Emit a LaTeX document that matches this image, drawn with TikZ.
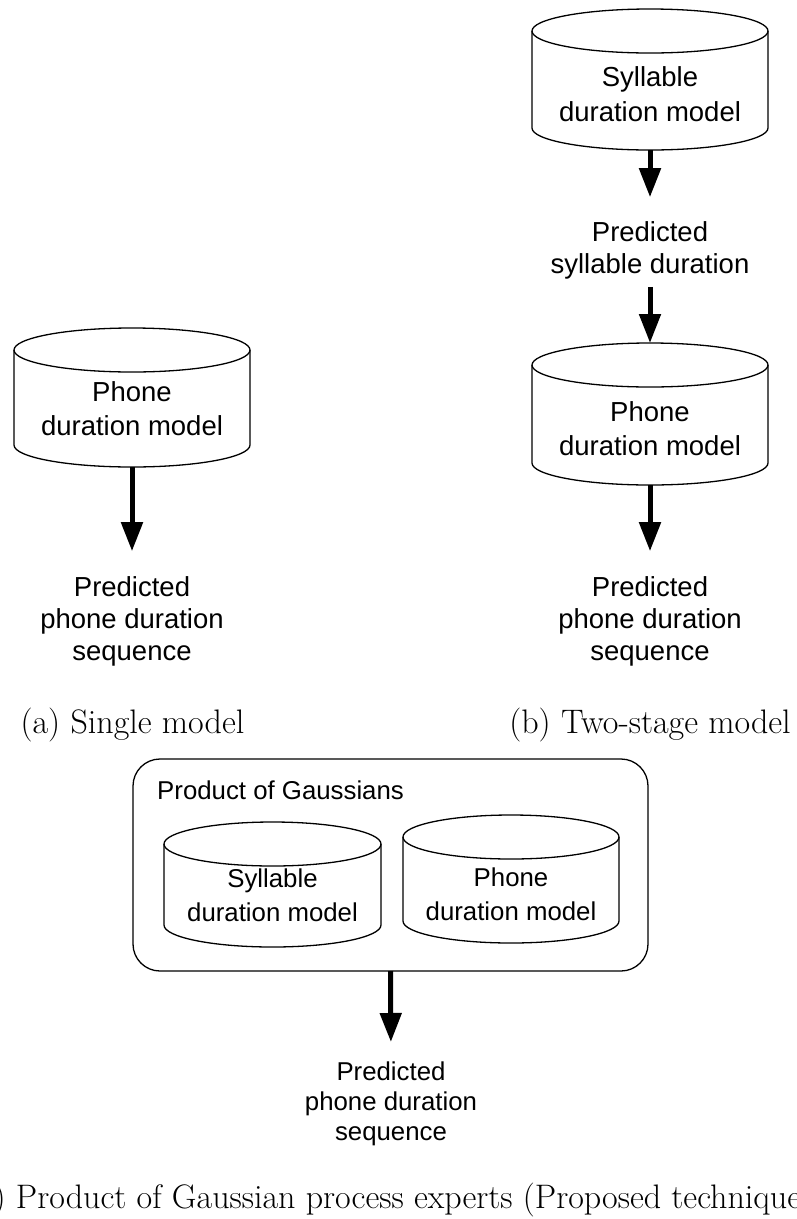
\documentclass[tikz,border=0pt]{standalone}
\usepackage{fontspec}
\setsansfont{Liberation Sans}
\usetikzlibrary{arrows.meta}
\tikzset{
  cylline/.style={line width=1.3pt},
  cylbox/.style={draw=none, inner sep=0pt, outer sep=0pt, rectangle},
  cyltxt/.style={font=\sffamily\fontsize{27.5}{34.5}\selectfont, align=center, inner sep=0pt, outer sep=0pt},
  cyltxtc/.style={font=\sffamily\fontsize{25.8}{34}\selectfont, align=center, inner sep=0pt, outer sep=0pt},
  outtxt/.style={font=\sffamily\fontsize{27.5}{32}\selectfont, align=center, inner sep=0pt, outer sep=0pt},
  outtxtc/.style={font=\sffamily\fontsize{25.8}{30}\selectfont, align=center, inner sep=0pt, outer sep=0pt},
  capt/.style={font=\fontsize{34}{40}\selectfont, inner sep=0pt, outer sep=0pt},
  flow/.style={line width=5pt, -{Triangle[length=29pt,width=21pt]}},
  pogbox/.style={draw, line width=1.3pt, rounded corners=27pt, inner sep=0pt, outer sep=0pt}
}
% #1 name, #2 cx, #3 rx, #4 top, #5 bottom, #6 text y, #7 text style, #8 text
\newcommand\dbcyl[8]{%
  \node[cylbox, minimum width={2*#3}, minimum height={#5-#4}] (#1) at (#2,{-(#4+#5)/2}) {};
  \draw[cylline] ({#2-#3},{-#4-22}) -- ({#2-#3},{-#5+22})
     arc[start angle=180, end angle=360, x radius=#3pt, y radius=22pt] -- ({#2+#3},{-#4-22});
  \draw[cylline] (#2,{-#4-22}) ellipse[x radius=#3pt, y radius=22pt];
  \node[#7] (#1t) at (#2,-#6) {#8};
}
\begin{document}
\begin{tikzpicture}[x=1pt,y=1pt]
\useasboundingbox (0,0) rectangle (797,-1219);
\fill[white] (0,0) rectangle (797,-1219);

% (a) single model
\dbcyl{cA}{132}{118}{328}{467}{408.5}{cyltxt}{Phone\\duration model}
\node[outtxt] (oA) at (132,-621) {Predicted\\phone duration\\sequence};
\draw[flow, shorten >=25pt] (cA.south) -- (oA.north);
\node[capt, anchor=base] (capA) at (132.5,-733) {(a) Single model};

% (b) two-stage model
\dbcyl{cBa}{650}{118}{9}{150}{94}{cyltxt}{Syllable\\duration model}
\node[outtxt] (oBa) at (650,-250) {Predicted\\syllable duration};
\dbcyl{cBb}{650}{118}{343}{485}{428.5}{cyltxt}{Phone\\duration model}
\node[outtxt] (oBb) at (650,-621) {Predicted\\phone duration\\sequence};
\draw[flow, shorten >=24pt] (cBa.south) -- (oBa.north);
\draw[flow, shorten <=8pt] (oBa.south) -- (cBb.north);
\draw[flow, shorten >=25pt] (cBb.south) -- (oBb.north);
\node[capt, anchor=base] (capB) at (650,-733) {(b) Two-stage model};

% (c) product of Gaussian process experts
\node[pogbox, minimum width=515, minimum height=212] (pog) at (390.5,-865) {};
\node[font=\sffamily\fontsize{25.8}{30}\selectfont, inner sep=0pt, anchor=west] (pogt) at (157,-790) {Product of Gaussians};
\dbcyl{cCa}{272.5}{108.5}{822}{947}{895}{cyltxtc}{Syllable\\duration model}
\dbcyl{cCb}{511}{108}{815}{943}{894}{cyltxtc}{Phone\\duration model}
\node[outtxtc] (oC) at (391,-1104) {Predicted\\phone duration\\sequence};
\draw[flow, shorten >=20pt] (pog.south) -- (oC.north);
\node[capt, anchor=base west] (capC) at (16,-1208) {\llap{(c) }Product of Gaussian process experts (Proposed technique)};
\end{tikzpicture}
\end{document}
